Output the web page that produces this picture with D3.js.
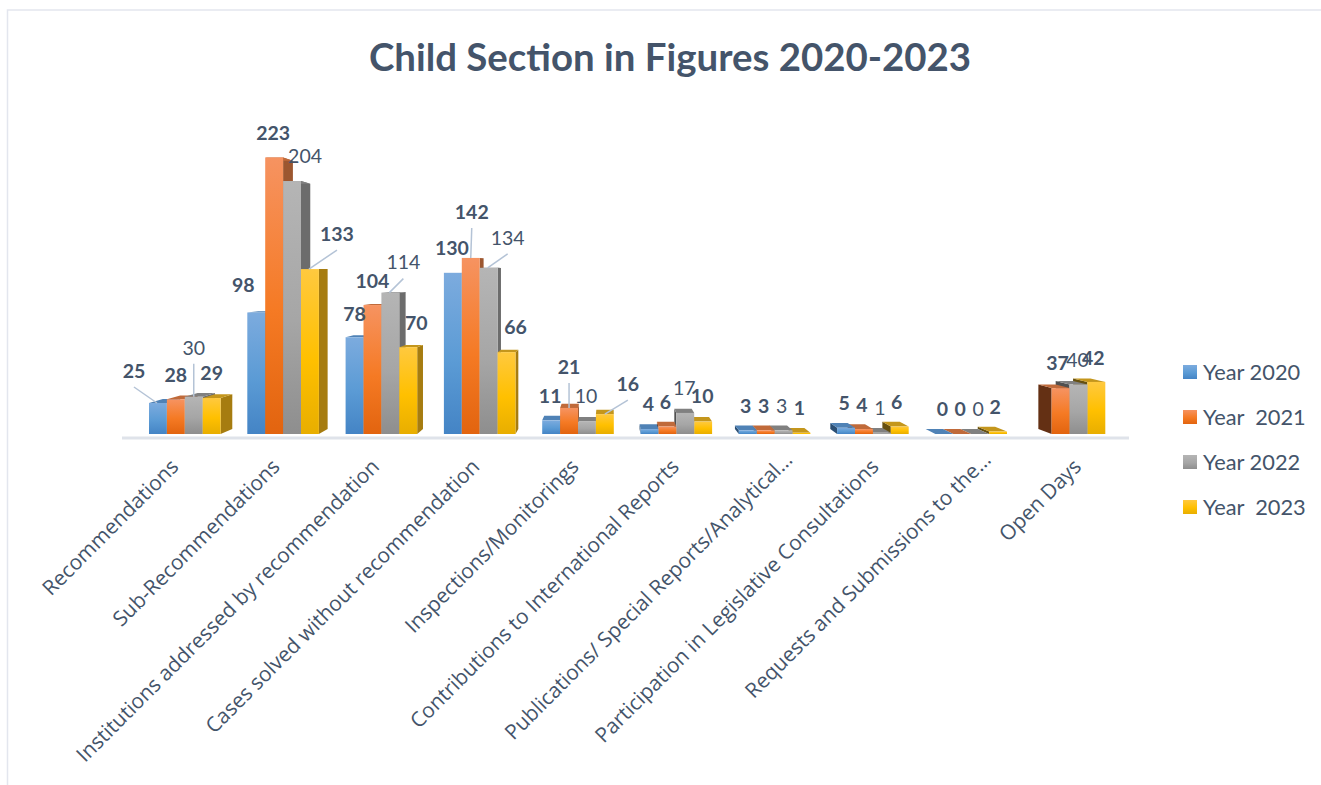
<!DOCTYPE html>
<html>
<head>
<meta charset="utf-8">
<script src="https://cdn.jsdelivr.net/npm/d3@7"></script>
<style>
  html, body { margin: 0; padding: 0; background: #fff; }
  svg { display: block; }
  text { font-family: Lato, "Open Sans", sans-serif; fill: #44546a; white-space: pre; }
  .tick text { font-family: "Open Sans", sans-serif; }
</style>
</head>
<body>
<svg id="chart" width="1321" height="785"></svg>
<script>
const titleText = "Child Section in Figures 2020-2023";
const categories = [
  "Recommendations",
  "Sub-Recommendations",
  "Institutions addressed by recommendation",
  "Cases solved without recommendation",
  "Inspections/Monitorings",
  "Contributions to International Reports",
  "Publications/ Special Reports/Analytical…",
  "Participation in Legislative Consultations",
  "Requests and Submissions to the…",
  "Open Days"
];
const seriesNames = ["Year 2020", "Year  2021", "Year 2022", "Year  2023"];
const year2020 = [25, 98, 78, 130, 11, 4, 3, 5, 0, null];
const year2021 = [28, 223, 104, 142, 21, 6, 3, 4, 0, 37];
const year2022 = [30, 204, 114, 134, 10, 17, 3, 1, 0, 40];
const year2023 = [29, 133, 70, 66, 16, 10, 1, 6, 2, 42];
const seriesValues = [year2020, year2021, year2022, year2023];

// Colour ramps per series: front face top / middle / bottom, right wall, left wall, roof.
const palette = [
  { stops: ["#7cabde", "#5b9bd5", "#4484c5"], side: "#3c6d9e", sideLeft: "#2b4f74", roof: "#4f82b6" },
  { stops: ["#f69361", "#f57a24", "#e2640f"], side: "#9c5730", sideLeft: "#643014", roof: "#c06a3a" },
  { stops: ["#b5b5b5", "#a6a6a6", "#8e8e8e"], side: "#6c6c6c", sideLeft: "#505050", roof: "#808080" },
  { stops: ["#ffc93f", "#ffc000", "#e8ae00"], side: "#a67c10", sideLeft: "#665010", roof: "#c4961c" }
];

// Hand-placed label shifts from the top centre of each bar, [dx, dy] per series.
const labelShifts = [
  [[-24,-32],[-13,-27],[0,-23],[-1,-25],[-1,-24],[-1,-25],[-2,-24],[-2,-25],[-2,-25],null],
  [[0,-24],[-1,-24],[0,-24],[1,-46],[0,-41],[-2,-24],[-2,-24],[-2,-24],[-2,-25],[-3,-25]],
  [[0,-49],[13,-25],[13,-30],[19,-30],[-1,-25],[-1,-25],[-2,-24],[-2,-25],[-2,-25],[-1,-24]],
  [[0,-25],[27,-35],[8,-24],[9,-25],[23,-30],[-1,-25],[-2,-25],[-3,-24],[-3,-24],[-3,-24]]
];
// Labels that sit away from their bar get a leader line: [series, category].
const leaderBars = [[0,0],[2,0],[3,1],[2,2],[1,3],[2,3],[1,4],[3,4]];
// Where each slanted category label ends, relative to its group centre.
const tickEnds = [[-5,30],[-2,30],[-1,30],[1,30],[2,30],[4,30],[19,23],[7,30],[21,23],[13,30]];

const svg = d3.select("#chart");
const baseY = 434;

const x = d3.scaleBand()
  .domain(d3.range(categories.length))
  .range([135.65, 1118.65])
  .paddingInner(0.2716)
  .paddingOuter(0.1358);
const xBar = d3.scaleBand().domain(d3.range(seriesNames.length)).range([0, x.bandwidth()]);
const y = d3.scaleLinear().domain([0, 250]).range([baseY, baseY - 310]);

// One-point perspective: the back of each bar is pulled toward a vanishing point.
const vanish = { x: 610, y: 270, depth: 0.03 };
const back = ([px, py]) => [px + (vanish.x - px) * vanish.depth, py + (vanish.y - py) * vanish.depth];
const poly = pts => pts.map(p => p.join(",")).join(" ");

// Frame around the chart area
svg.append("path")
  .attr("d", d3.line()([[1321, 10], [7.5, 10], [7.5, 785]]))
  .attr("fill", "none").attr("stroke", "#e3e6ee").attr("stroke-width", 1.5);

// Gradients for the front faces
const defs = svg.append("defs");
palette.forEach((c, i) => {
  const g = defs.append("linearGradient").attr("id", `front${i}`)
    .attr("x1", 0).attr("y1", 0).attr("x2", 0).attr("y2", 1);
  [0, 0.55, 1].forEach((o, k) => g.append("stop").attr("offset", o).attr("stop-color", c.stops[k]));
});

svg.append("text")
  .attr("x", 670).attr("y", 71)
  .attr("text-anchor", "middle")
  .attr("font-size", 38.4).attr("font-weight", 700)
  .text(titleText);

// Category axis: a pale baseline and slanted tick labels
const axis = d3.axisBottom(x).tickSize(0).tickPadding(0).tickFormat(i => categories[i]);
const axisG = svg.append("g").attr("transform", "translate(0,438)").call(axis);
axisG.select(".domain")
  .attr("d", "M122,0H1129")
  .attr("stroke", "#dfe3ea").attr("stroke-width", 3);
axisG.selectAll(".tick text")
  .attr("font-size", 20.8)
  .attr("text-anchor", "end")
  .attr("y", 0)
  .attr("dy", 0)
  .attr("transform", (i) => `translate(${tickEnds[i][0]},${tickEnds[i][1]}) rotate(-45)`)
  .style("fill", "#44546a");

// Flatten to bars, painting from the outside in so nearer faces cover the sides.
const bars = [];
seriesValues.forEach((vals, s) => vals.forEach((v, c) => {
  if (v !== null) bars.push({ s, c, v, x0: x(c) + xBar(s), w: xBar.bandwidth() });
}));
bars.sort((a, b) => Math.abs(b.x0 + b.w / 2 - vanish.x) - Math.abs(a.x0 + a.w / 2 - vanish.x));

const barG = svg.append("g").selectAll("g").data(bars).join("g");

barG.each(function (d) {
  const g = d3.select(this);
  const x0 = d.x0, x1 = d.x0 + d.w, top = y(d.v), col = palette[d.s];
  // Side wall, on whichever flank faces the vanishing point
  if (x1 < vanish.x) {
    g.append("polygon")
      .attr("points", poly([[x1, top], back([x1, top]), back([x1, baseY]), [x1, baseY]]))
      .attr("fill", col.side);
  } else if (x0 > vanish.x) {
    g.append("polygon")
      .attr("points", poly([[x0, top], back([x0, top]), back([x0, baseY]), [x0, baseY]]))
      .attr("fill", col.sideLeft);
  }
  // Roof
  g.append("polygon")
    .attr("points", poly([[x0, top], back([x0, top]), back([x1, top]), [x1, top]]))
    .attr("fill", col.roof);
  // Front
  g.append("rect")
    .attr("x", x0).attr("y", top)
    .attr("width", d.w).attr("height", baseY - top)
    .attr("fill", `url(#front${d.s})`);
});

// Data labels; the 2022 series is set in regular weight, the others in bold
const labelled = bars.filter(d => labelShifts[d.s][d.c]);
const labelPos = d => {
  const [dx, dy] = labelShifts[d.s][d.c];
  return [d.x0 + d.w / 2 + dx, y(d.v) + dy];
};

// Leader lines from the label to the top of its bar
const isLeader = d => leaderBars.some(([s, c]) => s === d.s && c === d.c);
svg.append("g").selectAll("line").data(labelled.filter(isLeader)).join("line")
  .attr("x1", d => labelPos(d)[0])
  .attr("y1", d => labelPos(d)[1] + 16)
  .attr("x2", d => d.x0 + d.w / 2 - (d.s === 1 || d.c === 0 && d.s === 2 || d.c === 4 ? 0 : 1))
  .attr("y2", d => y(d.v))
  .attr("stroke", "#b4c3d6").attr("stroke-width", 1.5);

svg.append("g").selectAll("text").data(labelled).join("text")
  .attr("x", d => labelPos(d)[0])
  .attr("y", d => labelPos(d)[1])
  .attr("dy", "0.35em")
  .attr("text-anchor", "middle")
  .attr("font-size", 19.5)
  .attr("font-weight", d => d.s === 2 ? 400 : 700)
  .text(d => d.v);

// Legend
const legendY = d3.scalePoint().domain(d3.range(seriesNames.length)).range([372, 507]);
const legend = svg.append("g").selectAll("g").data(seriesNames).join("g")
  .attr("transform", (d, i) => `translate(1183,${legendY(i)})`);
legend.append("rect")
  .attr("y", -7).attr("width", 14).attr("height", 14)
  .attr("fill", (d, i) => `url(#front${i})`);
legend.append("text")
  .attr("x", 20).attr("dy", "0.35em")
  .attr("font-size", 21.8)
  .text(d => d);
</script>
</body>
</html>
